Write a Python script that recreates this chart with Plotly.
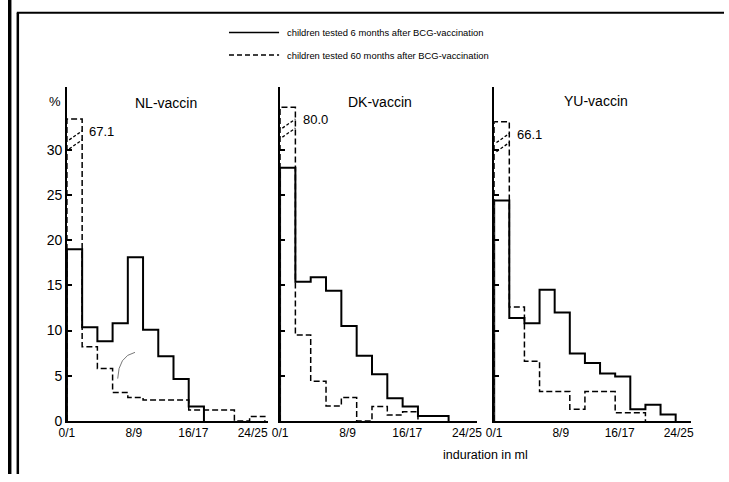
import plotly.graph_objects as go

# ---------------- data ----------------
panels = ["NL-vaccin", "DK-vaccin", "YU-vaccin"]
tick_labels = ["0/1", "8/9", "16/17", "24/25"]
y_ticks = [0, 5, 10, 15, 20, 25, 30]

nl_6m = [19.0, 10.35, 8.8, 10.8, 18.1, 10.1, 7.15, 4.65, 1.6]
nl_60m = [67.1, 8.2, 5.8, 3.15, 2.6, 2.3, 2.3, 2.3, 1.2, 1.2, 1.2, 0.0, 0.5]
dk_6m = [28.0, 15.4, 15.9, 14.4, 10.5, 7.2, 5.15, 2.5, 1.6, 0.55, 0.55]
dk_60m = [80.0, 9.5, 4.4, 1.65, 2.6, 0.0, 1.6, 0.65, 1.0]
yu_6m = [24.4, 11.4, 10.8, 14.5, 12.0, 7.45, 6.4, 5.25, 4.9, 1.3, 1.8, 0.7]
yu_60m = [66.1, 12.6, 6.6, 3.25, 3.25, 1.3, 3.25, 3.25, 0.9, 0.9]

series_6m = [nl_6m, dk_6m, yu_6m]
series_60m = [nl_60m, dk_60m, yu_60m]

legend_6m = "children tested 6 months after BCG-vaccination"
legend_60m = "children tested 60 months after BCG-vaccination"
x_title = "induration in ml"

# ---------------- layout constants ----------------
W, H = 729, 482
FONT = "Liberation Sans, Arial, Helvetica, sans-serif"
panel_px = [(60, 265, 15.5), (277, 478, 15.6), (495, 695, 15.4)]  # left, right, px per bin
y_top_px, y_base_px = 88, 428
y_max = 37.0
caps = [33.4, 34.7, 33.1]          # drawn height of the broken first bar
tick_pos = [0, 4.4, 8.3, 12.2]
title_pos = [(161, 105), (379, 104), (599, 103)]


def px(x):
    return x / W


def py(y):
    return 1 - y / H


def steps(vals, cap=None):
    v = list(vals)
    if cap is not None:
        v[0] = min(v[0], cap)
    xs = list(range(len(v) + 1))
    ys = v + [0.0]
    return [0] + xs, [0.0] + ys


fig = go.Figure()
shapes = []
annotations = []

for i, name in enumerate(panels):
    n = "" if i == 0 else str(i + 1)
    xa, ya = "x" + n, "y" + n
    l, r, bw = panel_px[i]
    xr = (r - l) / bw

    xs, ys = steps(series_6m[i])
    fig.add_trace(go.Scatter(x=xs, y=ys, mode="lines", line=dict(color="black", width=2.0, shape="hv"),
                             xaxis=xa, yaxis=ya, showlegend=False, hoverinfo="skip"))
    xs, ys = steps(series_60m[i], caps[i])
    fig.add_trace(go.Scatter(x=xs, y=ys, mode="lines",
                             line=dict(color="black", width=1.5, shape="hv", dash="6px,3px"),
                             xaxis=xa, yaxis=ya, showlegend=False, hoverinfo="skip"))

    # axes
    fig.layout["xaxis" + n] = dict(
        domain=[px(l), px(r)], range=[0, xr], anchor=ya, showgrid=False, zeroline=False,
        showline=True, linecolor="black", linewidth=1.8, ticks="",
        tickvals=tick_pos, ticktext=tick_labels, tickfont=dict(size=12, color="black", family=FONT),
        fixedrange=True)
    fig.layout["yaxis" + n] = dict(
        domain=[py(y_base_px), py(y_top_px)], range=[0, y_max], anchor=xa, showgrid=False,
        zeroline=False, showline=True, linecolor="black", linewidth=1.6,
        ticks="inside", ticklen=5, tickwidth=1.5, tickcolor="black", tickvals=y_ticks,
        showticklabels=(i == 0), tickfont=dict(size=14, color="black", family=FONT),
        fixedrange=True)

    # label of broken bar and break marks
    cap = caps[i]
    ly = cap - 1.4
    annotations.append(dict(x=1.35, y=ly, xref=xa, yref=ya, text=f"{series_60m[i][0]:.1f}",
                            showarrow=False, xanchor="left", yanchor="middle",
                            font=dict(size=13, color="black", family=FONT)))
    for off in (0.0, -1.0):
        shapes.append(dict(type="line", xref=xa, yref=ya, x0=0.15, x1=1.0,
                           y0=ly - 0.9 + off, y1=ly + 0.1 + off,
                           line=dict(color="black", width=1.3, dash="3px,2px")))

    # panel title
    tx, ty = title_pos[i]
    annotations.append(dict(x=px(tx), y=py(ty), xref="paper", yref="paper", text=name,
                            showarrow=False, xanchor="center", yanchor="middle",
                            font=dict(size=14, color="black", family=FONT)))

# "%" label
annotations.append(dict(x=px(48), y=py(103), xref="paper", yref="paper", text="%", showarrow=False,
                        xanchor="center", yanchor="middle", font=dict(size=13, color="black", family=FONT)))
# x axis title
annotations.append(dict(x=px(486), y=py(463), xref="paper", yref="paper", text=x_title, showarrow=False,
                        xanchor="center", yanchor="middle", font=dict(size=12.5, color="black", family=FONT)))

# legend (drawn manually)
leg_y = [33, 56]
for k, (txt, dash) in enumerate([(legend_6m, "solid"), (legend_60m, "5px,3px")]):
    shapes.append(dict(type="line", xref="paper", yref="paper", x0=px(225), x1=px(276),
                       y0=py(leg_y[k]), y1=py(leg_y[k]), line=dict(color="black", width=1.5, dash=dash)))
    annotations.append(dict(x=px(282), y=py(leg_y[k]), xref="paper", yref="paper", text=txt,
                            showarrow=False, xanchor="left", yanchor="middle",
                            font=dict(size=9.4, color="black", family=FONT)))

# faint pencil arc present in the scanned original (NL panel)
shapes.append(dict(type="path", xref="paper", yref="paper",
                   path=f"M {px(111.7)} {py(385)} Q {px(112.5)} {py(362)} {px(129.3)} {py(358.3)}",
                   line=dict(color="#555555", width=0.8)))

# outer frame (left double line and top line)
shapes.append(dict(type="rect", xref="paper", yref="paper", x0=0, x1=px(3.5), y0=0, y1=1,
                   fillcolor="black", line=dict(width=0)))
shapes.append(dict(type="line", xref="paper", yref="paper", x0=px(10), x1=px(10), y0=0, y1=py(13),
                   line=dict(color="black", width=2.5)))
shapes.append(dict(type="line", xref="paper", yref="paper", x0=px(9), x1=1, y0=py(13), y1=py(13),
                   line=dict(color="black", width=2)))

fig.update_layout(width=W, height=H, margin=dict(l=0, r=0, t=0, b=0),
                  paper_bgcolor="white", plot_bgcolor="white",
                  font=dict(family=FONT, color="black"),
                  shapes=shapes, annotations=annotations, showlegend=False)

fig.write_html("out.html",
               post_script="document.body.style.margin='0';document.body.style.overflow='hidden';")
